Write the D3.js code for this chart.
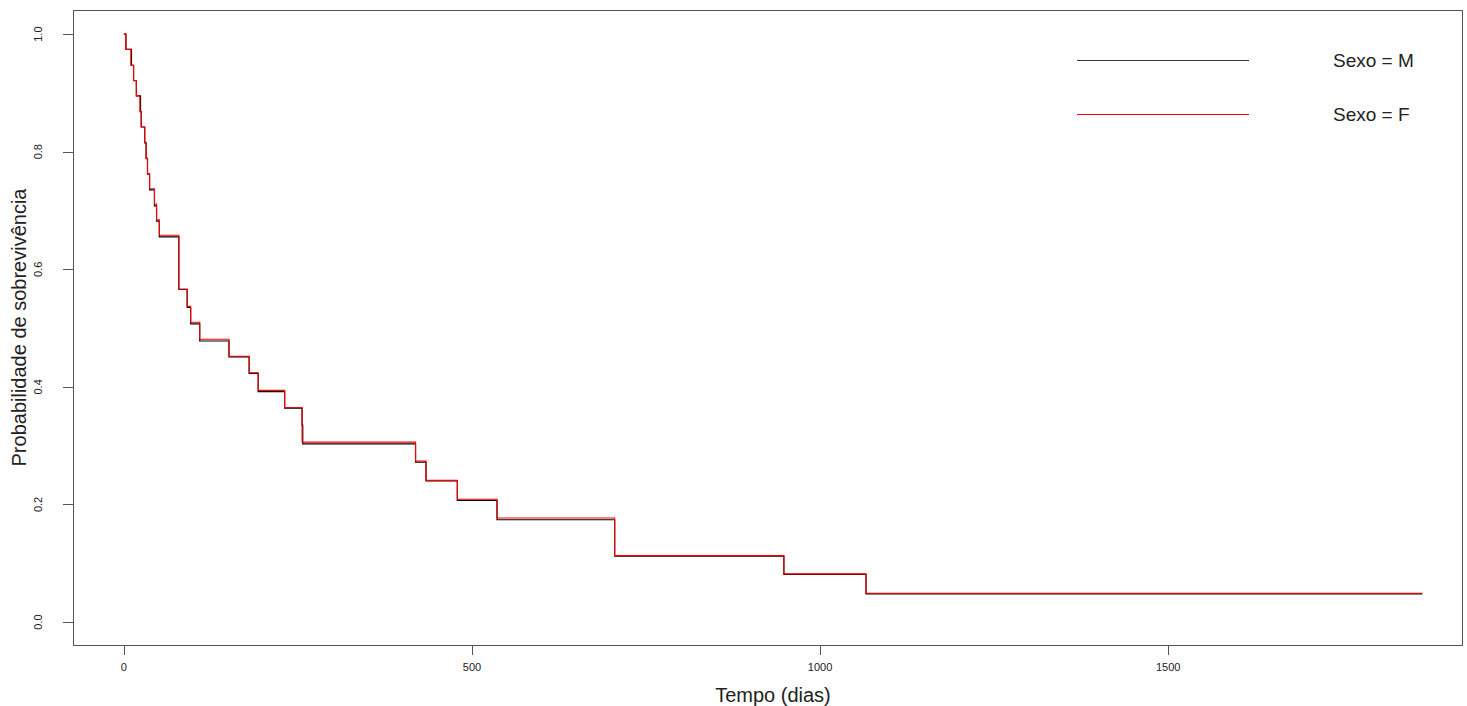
<!DOCTYPE html>
<html>
<head>
<meta charset="utf-8">
<script src="https://cdn.jsdelivr.net/npm/d3@7"></script>
<style>
  body { margin: 0; background: #fff; }
  svg { display: block; font-family: "Liberation Sans", Arial, sans-serif; }
</style>
</head>
<body>
<svg id="chart" width="1467" height="706"></svg>
<script>
// Kaplan-Meier estimates: drop times (days) and survival after each drop
const mTimes = [0, 3, 11, 14, 18, 24, 25, 30, 32, 34, 37, 44, 47, 51, 79, 91, 96, 109, 151, 180, 193, 231, 256, 257, 419, 434, 479, 536, 705, 948, 1066, 1865];
const mSurv  = [1.0, 0.974, 0.947, 0.921, 0.895, 0.868, 0.842, 0.815, 0.788, 0.762, 0.735, 0.708, 0.682, 0.655, 0.566, 0.535, 0.507, 0.478, 0.451, 0.423, 0.392, 0.364, 0.335, 0.303, 0.272, 0.240, 0.207, 0.174, 0.112, 0.081, 0.048, 0.048];

const fTimes = [0, 3, 10, 14, 18, 23, 25, 30, 32, 34, 37, 44, 47, 51, 79, 91, 96, 109, 151, 180, 193, 231, 256, 419, 434, 479, 536, 705, 948, 1066, 1865];
const fSurv  = [1.0, 0.974, 0.947, 0.921, 0.895, 0.868, 0.842, 0.816, 0.789, 0.763, 0.737, 0.711, 0.684, 0.658, 0.566, 0.537, 0.510, 0.481, 0.452, 0.424, 0.394, 0.365, 0.306, 0.274, 0.241, 0.209, 0.177, 0.113, 0.082, 0.049, 0.049];

const xTicks = [0, 500, 1000, 1500];
const yTicks = [0.0, 0.2, 0.4, 0.6, 0.8, 1.0];
const legendLabels = ['Sexo = M', 'Sexo = F'];
const seriesColors = ['#000000', '#ff0000'];

const box = {left: 73, right: 1462, top: 10, bottom: 645};

const svg = d3.select('#chart');

const x = d3.scaleLinear().domain([-73, 1922]).range([box.left, box.right]);
const y = d3.scaleLinear().domain([-0.039, 1.041]).range([box.bottom, box.top]);

function toPoints (times, surv) {
    return times.map(function (t, i) { return [t, surv[i]]; });
}

const line = d3.line()
    .x(function (d) { return x(d[0]); })
    .y(function (d) { return y(d[1]); })
    .curve(d3.curveStepAfter);

const series = [toPoints(mTimes, mSurv), toPoints(fTimes, fSurv)];

svg.append('g')
    .selectAll('path')
    .data(series)
    .enter()
    .append('path')
    .attr('d', line)
    .attr('fill', 'none')
    .attr('stroke', function (d, i) { return seriesColors[i]; })
    .attr('stroke-width', function (d, i) { return i === 1 ? 1.1 : 1.2; });

// plot box
svg.append('rect')
    .attr('x', box.left + 0.5)
    .attr('y', box.top + 0.5)
    .attr('width', box.right - box.left)
    .attr('height', box.bottom - box.top)
    .attr('fill', 'none')
    .attr('stroke', '#555')
    .attr('stroke-width', 1);

// x axis
const xAxis = svg.append('g');
xAxis.selectAll('line')
    .data(xTicks)
    .enter()
    .append('line')
    .attr('x1', function (d) { return Math.round(x(d)) + 0.5; })
    .attr('x2', function (d) { return Math.round(x(d)) + 0.5; })
    .attr('y1', box.bottom)
    .attr('y2', box.bottom + 10)
    .attr('stroke', '#555');
xAxis.selectAll('text')
    .data(xTicks)
    .enter()
    .append('text')
    .attr('x', function (d) { return x(d); })
    .attr('y', 671)
    .attr('text-anchor', 'middle')
    .style('font-family', '"Liberation Sans Narrow", "Liberation Sans", Arial, sans-serif')
    .style('font-size', '11px')
    .attr('fill', '#222')
    .text(function (d) { return d; });

// y axis
const yAxis = svg.append('g');
yAxis.selectAll('line')
    .data(yTicks)
    .enter()
    .append('line')
    .attr('x1', box.left)
    .attr('x2', box.left - 10)
    .attr('y1', function (d) { return Math.round(y(d)) + 0.5; })
    .attr('y2', function (d) { return Math.round(y(d)) + 0.5; })
    .attr('stroke', '#555');
yAxis.selectAll('text')
    .data(yTicks)
    .enter()
    .append('text')
    .attr('transform', function (d) { return 'translate(42,' + y(d) + ') rotate(-90)'; })
    .attr('text-anchor', 'middle')
    .style('font-family', '"Liberation Sans Narrow", "Liberation Sans", Arial, sans-serif')
    .style('font-size', '11px')
    .attr('fill', '#222')
    .text(function (d) { return d.toFixed(1); });

// axis titles
svg.append('text')
    .attr('x', 773)
    .attr('y', 702)
    .attr('text-anchor', 'middle')
    .style('font-size', '20px')
    .attr('fill', '#222')
    .text('Tempo (dias)');

svg.append('text')
    .attr('transform', 'translate(26,' + ((box.top + box.bottom) / 2) + ') rotate(-90)')
    .attr('text-anchor', 'middle')
    .style('font-size', '20px')
    .attr('fill', '#222')
    .text('Probabilidade de sobrevivência');

// legend
const legend = svg.append('g')
    .selectAll('g')
    .data(legendLabels)
    .enter()
    .append('g')
    .attr('transform', function (d, i) { return 'translate(0,' + (60 + i * 54) + ')'; });
legend.append('line')
    .attr('x1', 1077)
    .attr('x2', 1249)
    .attr('y1', 0.5)
    .attr('y2', 0.5)
    .attr('stroke', function (d, i) { return seriesColors[i]; })
    .attr('stroke-width', function (d, i) { return i === 0 ? 0.8 : 1; });
legend.append('text')
    .attr('x', 1333)
    .attr('y', 7)
    .style('font-size', '19px')
    .attr('fill', '#222')
    .text(function (d) { return d; });
</script>
</body>
</html>
